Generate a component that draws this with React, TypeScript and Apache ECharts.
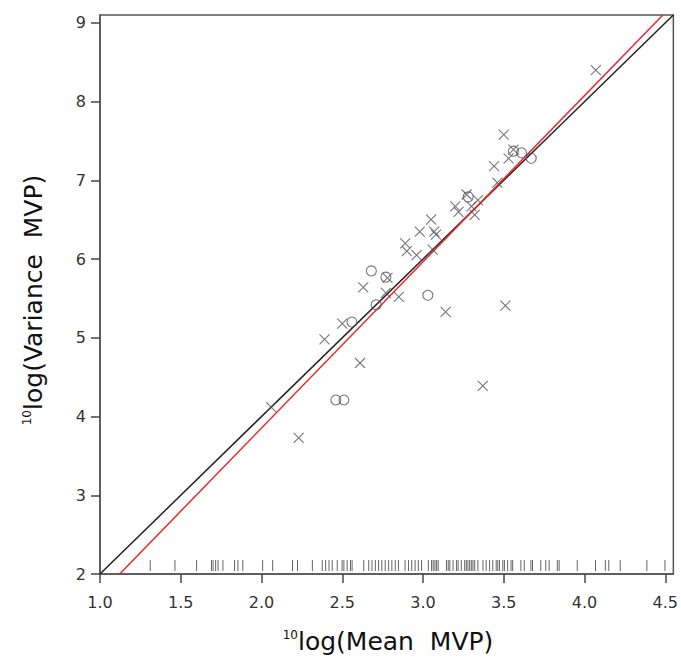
import React, { useEffect, useRef } from "react";
import * as echarts from "echarts";

// Scatter data: crosses
const crossX = [2.06, 2.23, 2.39, 2.50, 2.61, 2.63, 2.77, 2.78, 2.85, 2.89, 2.90, 2.96, 2.98, 3.05, 3.07, 3.06, 3.08, 3.14, 3.20, 3.22, 3.27, 3.30, 3.34, 3.32, 3.37, 3.44, 3.46, 3.50, 3.51, 3.53, 3.56, 4.07];
const crossY = [4.12, 3.73, 4.98, 5.18, 4.68, 5.64, 5.57, 5.76, 5.52, 6.20, 6.10, 6.05, 6.35, 6.50, 6.35, 6.12, 6.31, 5.33, 6.67, 6.60, 6.82, 6.67, 6.75, 6.56, 4.39, 7.18, 6.97, 7.58, 5.41, 7.28, 7.39, 8.40];
// Scatter data: circles
const circleX = [2.46, 2.51, 2.56, 2.68, 2.71, 2.77, 3.03, 3.28, 3.56, 3.61, 3.67];
const circleY = [4.21, 4.21, 5.20, 5.85, 5.42, 5.77, 5.54, 6.79, 7.37, 7.35, 7.28];
// Rug of x values
const rugX = [1.311, 1.464, 1.598, 1.690, 1.700, 1.716, 1.731, 1.761, 1.833, 1.854, 1.884, 2.007, 2.069, 2.192, 2.223, 2.315, 2.376, 2.397, 2.418, 2.438, 2.469, 2.499, 2.510, 2.530, 2.551, 2.561, 2.633, 2.664, 2.684, 2.705, 2.725, 2.745, 2.766, 2.787, 2.807, 2.828, 2.848, 2.889, 2.910, 2.930, 2.951, 2.971, 2.991, 3.033, 3.053, 3.063, 3.074, 3.084, 3.094, 3.145, 3.156, 3.166, 3.186, 3.207, 3.217, 3.237, 3.258, 3.268, 3.278, 3.289, 3.299, 3.309, 3.320, 3.340, 3.371, 3.391, 3.412, 3.432, 3.453, 3.463, 3.474, 3.494, 3.504, 3.524, 3.545, 3.555, 3.606, 3.627, 3.668, 3.678, 3.729, 3.760, 3.781, 3.832, 3.843, 3.955, 4.068, 4.129, 4.150, 4.221, 4.386, 4.498];
// Reference lines
const blackLineX = [1.0, 4.55];
const blackLineY = [2.0, 9.1];
const redLineX = [1.122, 4.485];
const redLineY = [2.0, 9.1];
// Axes
const xTicks = [1.0, 1.5, 2.0, 2.5, 3.0, 3.5, 4.0, 4.5];
const yTicks = [2, 3, 4, 5, 6, 7, 8, 9];
const X_MIN = 1.0, X_MAX = 4.55, Y_MIN = 2, Y_MAX = 9.1;

const FONT = "DejaVu Sans";
const CROSS = "path://M0,0L10,10M10,0L0,10";

export default function App() {
  const ref = useRef<HTMLDivElement>(null);
  useEffect(() => {
    if (!ref.current) return;
    const chart = echarts.init(ref.current, null, { renderer: "svg" });
    const zip = (a: number[], b: number[]) => a.map((v, i) => [v, b[i]]);
    chart.setOption({
      animation: false,
      backgroundColor: "#fff",
      grid: { left: 100, right: 4, top: 15, bottom: 83, show: true, borderColor: "#555", borderWidth: 1.5, backgroundColor: "transparent" },
      xAxis: {
        type: "value", min: X_MIN, max: X_MAX,
        splitLine: { show: false },
        axisLine: { show: true, lineStyle: { color: "#555", width: 1.5 } },
        axisTick: { show: true, length: 9, customValues: xTicks, lineStyle: { color: "#444", width: 1.5 } },
        axisLabel: { customValues: xTicks, margin: 20, color: "#333", fontFamily: FONT, fontSize: 16, formatter: (v: number) => v.toFixed(1) },
      },
      yAxis: {
        type: "value", min: Y_MIN, max: Y_MAX,
        splitLine: { show: false },
        axisLine: { show: true, lineStyle: { color: "#555", width: 1.5 } },
        axisTick: { show: true, length: 9, customValues: yTicks, lineStyle: { color: "#444", width: 1.5 } },
        axisLabel: { customValues: yTicks, margin: 14, color: "#333", fontFamily: FONT, fontSize: 16, formatter: (v: number) => String(v) },
      },
      series: [
        {
          type: "custom",
          data: rugX.map((x) => [x, Y_MIN]),
          renderItem: (params: any, api: any) => {
            const p = api.coord([api.value(0), api.value(1)]);
            return { type: "line", shape: { x1: p[0], y1: p[1] - 3, x2: p[0], y2: p[1] - 14 }, style: { stroke: "#333", lineWidth: 1, opacity: 0.75 } };
          },
          silent: true, z: 1,
        },
        {
          type: "line", data: zip(blackLineX, blackLineY), showSymbol: false, symbol: "none",
          lineStyle: { color: "#222", width: 1.5 }, z: 3,
        },
        {
          type: "line", data: zip(redLineX, redLineY), showSymbol: false, symbol: "none",
          lineStyle: { color: "#e8282a", width: 1.5 }, z: 4,
        },
        {
          type: "scatter", data: zip(crossX, crossY), symbol: CROSS, symbolSize: 10,
          itemStyle: { color: "none", borderColor: "#555", borderWidth: 1.1 }, z: 5,
        },
        {
          type: "scatter", data: zip(circleX, circleY), symbol: "circle", symbolSize: 10,
          itemStyle: { color: "transparent", borderColor: "#555", borderWidth: 1.1 }, z: 5,
        },
      ],
      graphic: [
        {
          type: "text", x: 388, y: 641,
          style: {
            text: "{s|10}{m|log(Mean  MVP)}", align: "center", verticalAlign: "middle", fill: "#111",
            rich: { s: { fontSize: 12, fontFamily: FONT, verticalAlign: "top", fill: "#111" }, m: { fontSize: 25, fontFamily: FONT, fill: "#111" } },
          },
        },
        {
          type: "text", x: 33, y: 300, rotation: Math.PI / 2,
          style: {
            text: "{s|10}{m|log(Variance  MVP)}", align: "center", verticalAlign: "middle", fill: "#111",
            rich: { s: { fontSize: 12, fontFamily: FONT, verticalAlign: "top", fill: "#111" }, m: { fontSize: 25, fontFamily: FONT, fill: "#111" } },
          },
        },
      ],
    });
    return () => chart.dispose();
  }, []);
  return <div ref={ref} style={{ width: 681, height: 657, position: "absolute", left: 0, top: 0 }} />;
}
